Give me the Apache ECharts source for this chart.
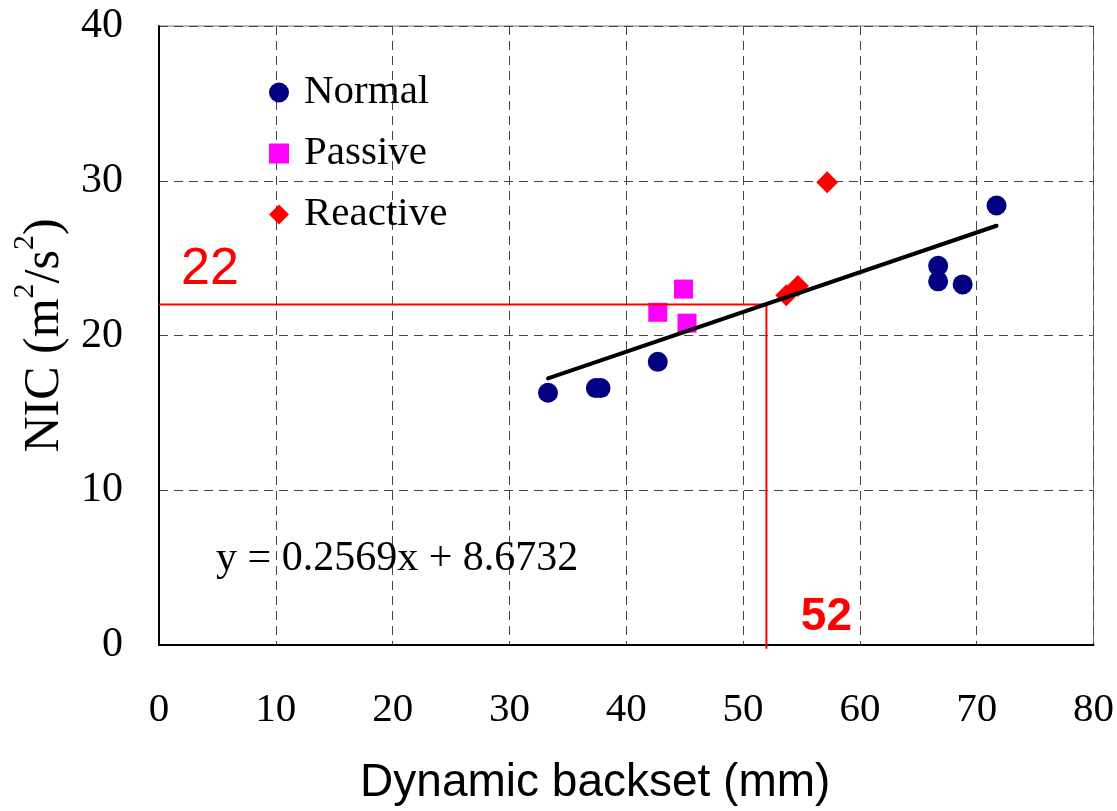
<!DOCTYPE html>
<html>
<head>
<meta charset="utf-8">
<script src="https://cdn.jsdelivr.net/npm/echarts@6.0.0/dist/echarts.min.js"></script>
<style>
  html, body { margin: 0; padding: 0; background: #fff; }
  #chart { width: 1117px; height: 811px; }
</style>
</head>
<body>
<div id="chart"></div>
<script>
// ---- data ----
const normalX   = [33.3, 37.4, 37.8, 42.7, 66.7, 66.7, 68.8, 71.7];
const normalY   = [16.3, 16.6, 16.6, 18.3, 24.5, 23.5, 23.3, 28.4];
const passiveX  = [42.7, 44.9, 45.2];
const passiveY  = [21.5, 23.0, 20.8];
const reactiveX = [53.7, 54.7, 57.2];
const reactiveY = [22.6, 23.2, 29.9];

const trendSlope = 0.2569;
const trendIntercept = 8.6732;
const refX = 52;
const refY = 22;
const refLineBottom = -0.25;

const xTicks = [0, 10, 20, 30, 40, 50, 60, 70, 80];
const yTicks = [0, 10, 20, 30, 40];

const equationText = 'y = 0.2569x + 8.6732';
const xTitle = 'Dynamic backset (mm)';

// ---- build ----
const zip = (xs, ys) => xs.map((x, i) => [x, ys[i]]);
const allX = normalX.concat(passiveX, reactiveX);
const xMin = Math.min(...allX), xMax = Math.max(...allX);
const trendData = [[xMin, trendSlope * xMin + trendIntercept], [xMax, trendSlope * xMax + trendIntercept]];

const serif = 'Liberation Serif';
const sans = 'Liberation Sans';

const chart = echarts.init(document.getElementById('chart'), null, { renderer: 'canvas' });
chart.setOption({
  animation: false,
  backgroundColor: '#ffffff',
  grid: { left: 159, right: 22, top: 21, bottom: 164, show: true, borderColor: '#777', borderWidth: 1, backgroundColor: 'transparent' },
  legend: {
    data: ['Normal', 'Passive', 'Reactive'],
    orient: 'vertical',
    left: 264, top: 67,
    itemWidth: 20, itemHeight: 20, itemGap: 20,
    textStyle: { fontFamily: serif, fontSize: 41, color: '#000', lineHeight: 40, padding: [0, 0, 0, 10] }
  },
  xAxis: {
    type: 'value', min: xTicks[0], max: xTicks[xTicks.length - 1], interval: 10,
    name: xTitle, nameLocation: 'middle', nameGap: 115,
    nameTextStyle: { fontFamily: sans, fontSize: 46, color: '#000', lineHeight: 46, padding: [0, 62, 0, 0] },
    axisLine: { show: true, lineStyle: { color: '#000', width: 2 } },
    axisTick: { show: false },
    axisLabel: { fontFamily: serif, fontSize: 41, color: '#000', margin: 45, lineHeight: 41 },
    splitLine: { show: true, lineStyle: { color: '#444', type: [9, 6], width: 1 } }
  },
  yAxis: {
    type: 'value', min: yTicks[0], max: yTicks[yTicks.length - 1], interval: 10,
    name: '{a|NIC (m}{s|2}{a|/s}{s|2}{a|)}', nameLocation: 'middle', nameGap: 79, nameRotate: 90,
    nameTextStyle: {
      rich: {
        a: { fontFamily: serif, fontSize: 50, lineHeight: 70, color: '#000', verticalAlign: 'middle' },
        s: { fontFamily: serif, fontSize: 30, lineHeight: 30, color: '#000', verticalAlign: 'top' }
      }
    },
    axisLine: { show: true, lineStyle: { color: '#000', width: 2 } },
    axisTick: { show: false },
    axisLabel: { fontFamily: serif, fontSize: 42, color: '#000', margin: 36, lineHeight: 42, padding: [10, 0, 0, 0] },
    splitLine: { show: true, lineStyle: { color: '#444', type: [9, 6], width: 1 } }
  },
  series: [
    { name: 'Normal', type: 'scatter', data: zip(normalX, normalY), symbol: 'circle', symbolSize: 20,
      itemStyle: { color: '#000080', opacity: 1 }, z: 2 },
    { name: 'Passive', type: 'scatter', data: zip(passiveX, passiveY), symbol: 'rect', symbolSize: 19,
      itemStyle: { color: '#FF00FF', opacity: 1 }, z: 2 },
    { name: 'Reactive', type: 'scatter', data: zip(reactiveX, reactiveY), symbol: 'diamond', symbolSize: 22,
      itemStyle: { color: '#FF0000', opacity: 1 }, z: 2 },
    { name: 'ref', type: 'line', data: [[xTicks[0], refY], [refX, refY], [refX, refLineBottom]],
      symbol: 'none', clip: false, lineStyle: { color: '#FF0000', width: 2 }, z: 3, silent: true },
    { name: 'trend', type: 'line', data: trendData, symbol: 'none',
      lineStyle: { color: '#000', width: 4, cap: 'round' }, z: 4, silent: true },
    { name: 'annot', type: 'scatter', symbolSize: 0.1, itemStyle: { color: 'rgba(0,0,0,0)', opacity: 1 }, clip: false, silent: true, z: 5,
      data: [
        { value: [xTicks[0], refY], label: { show: true, formatter: String(refY), position: 'inside', offset: [51, -35],
          fontFamily: sans, fontSize: 52, color: '#FF0000', opacity: 1, lineHeight: 52 } },
        { value: [refX, yTicks[0]], label: { show: true, formatter: String(refX), position: 'inside', offset: [60, -28],
          fontFamily: sans, fontSize: 46, fontWeight: 'bold', color: '#FF0000', opacity: 1, lineHeight: 46 } }
      ] }
  ],
  graphic: [
    { type: 'text', left: 216, top: 538, style: { text: equationText, font: '42px "Liberation Serif"', fill: '#000' }, z: 10 }
  ]
});
</script>
</body>
</html>
